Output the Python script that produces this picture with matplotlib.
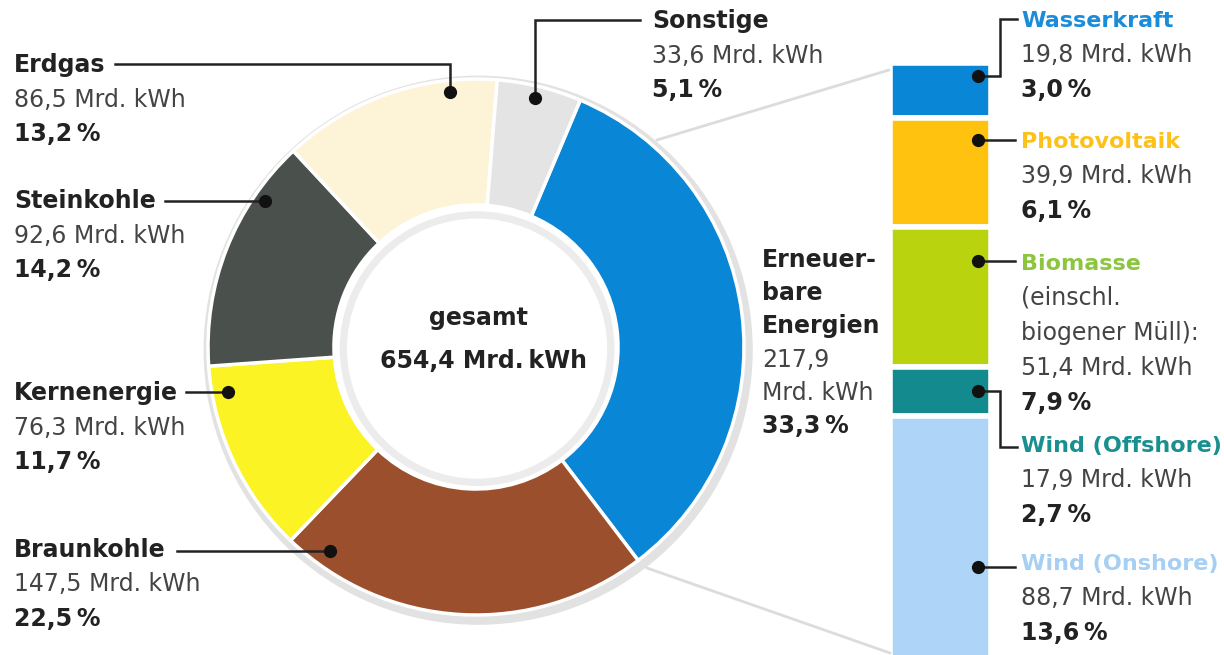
import matplotlib
matplotlib.use("Agg")
import matplotlib.pyplot as plt
from matplotlib.patches import Circle, Wedge
import numpy as np

# Strommix gesamt (Reihenfolge im Uhrzeigersinn ab "Erneuerbare")
mix_labels = ["Erneuerbare Energien", "Braunkohle", "Kernenergie", "Steinkohle", "Erdgas", "Sonstige"]
mix_twh = [217.9, 147.5, 76.3, 92.6, 86.5, 33.6]
mix_pct = [33.3, 22.5, 11.7, 14.2, 13.2, 5.1]
mix_colors = ["#0a86d6", "#9b4f2d", "#fbf324", "#4a504b", "#fdf4d7", "#e4e4e4"]
total_twh = 654.4

# Aufteilung der Erneuerbaren
ee_labels = ["Wasserkraft", "Photovoltaik", "Biomasse", "Wind (Offshore)", "Wind (Onshore)"]
ee_twh = [19.8, 39.9, 51.4, 17.9, 88.7]
ee_pct = [3.0, 6.1, 7.9, 2.7, 13.6]
ee_colors = ["#0a86d6", "#ffc20e", "#b9d30f", "#138a8d", "#aed5f7"]
ee_text_colors = ["#1a8cda", "#fdc11a", "#8cc63f", "#1a8f90", "#a6cff3"]

W, H = 1224, 655
FS = 17
DARK = "#222222"
GREY = "#444444"


def de(v):
    return f"{v:.1f}".replace(".", ",")


def px(x, y, w, h):
    # Pixelbox (oben links) -> Figure-Koordinaten
    return [x / W, 1 - (y + h) / H, w / W, h / H]


fig = plt.figure(figsize=(W / 100, H / 100), dpi=100)

# --- Donut ---
cx, cy, r = 476, 347, 268
half = 1.25 * r
ax_pie = fig.add_axes(px(cx - half, cy - half, 2 * half, 2 * half))
ax_pie.add_patch(Circle((0.008, -0.012), 1.022, color="#e2e2e2", zorder=0))
ax_pie.add_patch(Circle((0, 0), 0.535, color="white", zorder=0.5))
ax_pie.pie(
    mix_pct,
    colors=mix_colors,
    startangle=67.1,
    counterclock=False,
    radius=1.0,
    wedgeprops=dict(width=0.47, edgecolor="white", linewidth=2.5),
)
ax_pie.add_patch(Wedge((0.004, -0.006), 0.51, 0, 360, width=0.022, color="#ececec", zorder=3))
ax_pie.set_xlim(-1.25, 1.25)
ax_pie.set_ylim(-1.25, 1.25)
ax_pie.axis("off")

# --- Balken Erneuerbare ---
ee_total = sum(ee_twh)
ax_bar = fig.add_axes(px(890, 63.3, 101, 596))
bottoms = np.concatenate([[0], np.cumsum(ee_twh)[:-1]])
ax_bar.bar([0.5] * len(ee_twh), ee_twh, width=1.0, bottom=bottoms,
           color=ee_colors, edgecolor="white", linewidth=4)
ax_bar.set_xlim(0, 1)
ax_bar.set_ylim(ee_total, 0)
ax_bar.axis("off")

# --- Overlay fuer Texte und Linien ---
ax = fig.add_axes([0, 0, 1, 1])
ax.set_xlim(0, W)
ax.set_ylim(H, 0)
ax.axis("off")
ax.patch.set_visible(False)

# graue Verbindungslinien Donut -> Balken
ax.plot([657, 889], [140, 70], color="#dcdcdc", lw=2, solid_capstyle="round")
ax.plot([647, 890], [568, 653], color="#dcdcdc", lw=2, solid_capstyle="round")


def leader_from_dot(points):
    xs, ys = zip(*points)
    ax.plot(xs, ys, color=DARK, lw=1.8, solid_joinstyle="miter")
    ax.plot(xs[0], ys[0], "o", color="#111111", ms=8.5)


def block(x, y0, lines, step=34.5):
    for i, (txt, weight, col, fs) in enumerate(lines):
        ax.text(x, y0 + i * step, txt, fontsize=fs, fontweight=weight,
                color=col, va="baseline", ha="left")


# Labels Donut (Layout in Pixeln)
mix_layout = {
    "Braunkohle": (14, 557, [(330, 551), (177, 551)]),
    "Kernenergie": (14, 400, [(228, 392), (186, 392)]),
    "Steinkohle": (14, 208, [(265, 201), (165, 201)]),
    "Erdgas": (14, 72, [(450, 92), (450, 64), (115, 64)]),
    "Sonstige": (652, 28, [(535, 98), (535, 20), (640, 20)]),
}
for name, twh, pct in zip(mix_labels, mix_twh, mix_pct):
    if name not in mix_layout:
        continue
    x, y, pts = mix_layout[name]
    leader_from_dot(pts)
    block(x, y, [
        (name, "bold", DARK, FS),
        (f"{de(twh)} Mrd. kWh", "normal", GREY, FS),
        (f"{de(pct)}\u2009%", "bold", DARK, FS),
    ])

# Erneuerbare Energien (ohne Linie)
block(762, 267, [
    ("Erneuer-", "bold", DARK, FS),
    ("bare", "bold", DARK, FS),
    ("Energien", "bold", DARK, FS),
    (de(mix_twh[0]), "normal", GREY, FS),
    ("Mrd. kWh", "normal", GREY, FS),
    (f"{de(mix_pct[0])}\u2009%", "bold", DARK, FS),
], step=33.2)

# Mitte
ax.text(478, 325, "gesamt", fontsize=FS, fontweight="bold", color=DARK, ha="center", va="baseline")
ax.text(484, 368, f"{de(total_twh)} Mrd.\u2009kWh", fontsize=FS, fontweight="bold",
        color=DARK, ha="center", va="baseline")

# Labels Balken
ee_layout = [
    (27, [(978, 76), (1000, 76), (1000, 19), (1017, 19)]),
    (148, [(978, 140), (1015, 140)]),
    (270, [(978, 261), (1015, 261)]),
    (452, [(978, 391), (1000, 391), (1000, 447), (1017, 447)]),
    (570, [(978, 567), (1015, 567)]),
]
for name, twh, pct, col, (y, pts) in zip(ee_labels, ee_twh, ee_pct, ee_text_colors, ee_layout):
    leader_from_dot(pts)
    lines = [(name, "bold", col, 16)]
    if name == "Biomasse":
        lines += [("(einschl.", "normal", GREY, FS), ("biogener Müll):", "normal", GREY, FS)]
    lines += [(f"{de(twh)} Mrd. kWh", "normal", GREY, FS),
              (f"{de(pct)}\u2009%", "bold", DARK, FS)]
    block(1021, y, lines, step=35)

fig.savefig("out.png", dpi=100, facecolor="white")
